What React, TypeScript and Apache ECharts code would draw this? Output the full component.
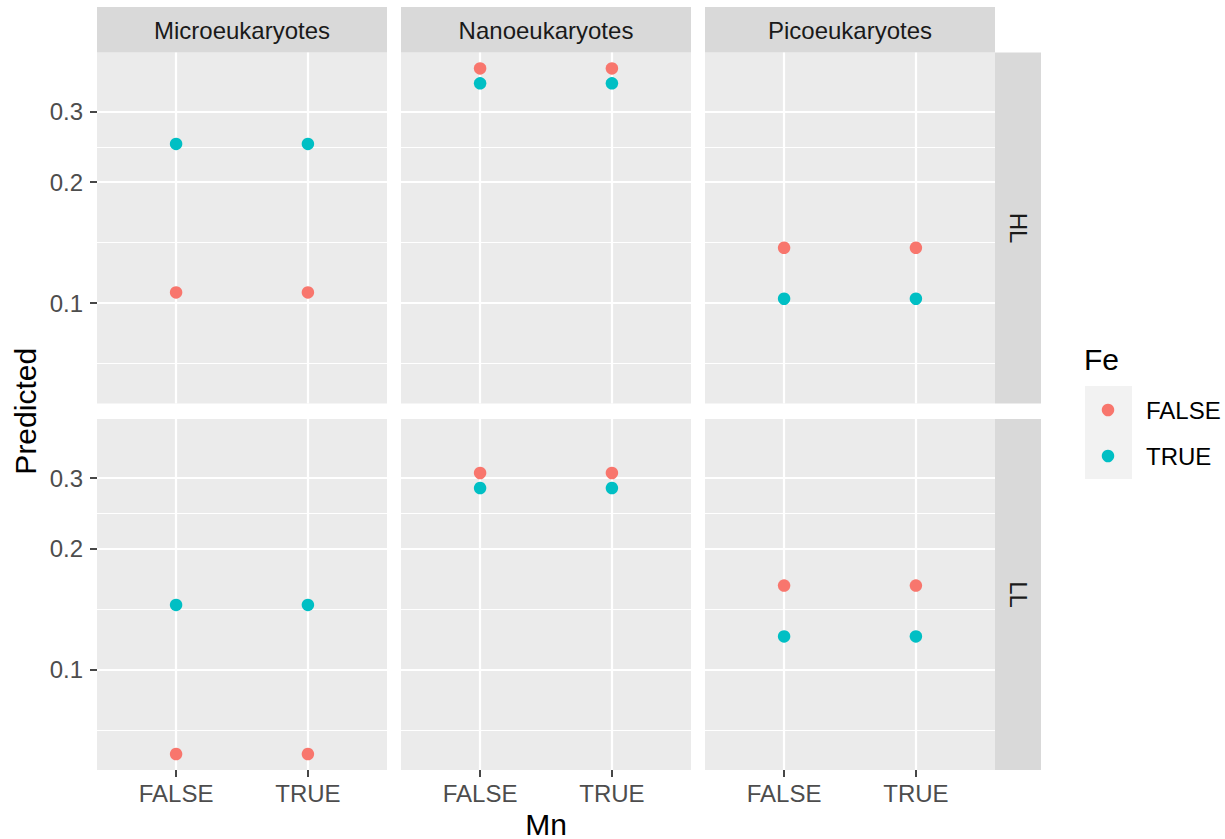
import React, { useEffect, useRef } from 'react';
import * as echarts from 'echarts';

// Facets
const species = ['Microeukaryotes', 'Nanoeukaryotes', 'Picoeukaryotes'];
const lightLevels = ['HL', 'LL'];
// x axis (Mn) levels and colour groups (Fe)
const mnLevels = ['FALSE', 'TRUE'];
const feLevels = ['FALSE', 'TRUE'];

// Predicted values per species, given for Mn = FALSE and Mn = TRUE
const hlFeFalse = [[0.1063, 0.1063], [0.3842, 0.3842], [0.1373, 0.1373]];
const hlFeTrue = [[0.2491, 0.2491], [0.3526, 0.3526], [0.1025, 0.1025]];
const llFeFalse = [[0.0616, 0.0616], [0.3088, 0.3088], [0.1619, 0.1619]];
const llFeTrue = [[0.1449, 0.1449], [0.2833, 0.2833], [0.1209, 0.1209]];

// log10 y scale
const yBreaks = [0.1, 0.2, 0.3];
const yMinorBreaks = [0.0707, 0.1414, 0.2449];
const yLimits = [0.0562, 0.4209];

const feColors = ['#F8766D', '#00BFC4'];

const FONT = 'Liberation Sans, Arial, Helvetica, sans-serif';
const TEXT_SIZE = 24;
const TITLE_SIZE = 30;
const PANEL_LEFT = [97, 401, 705];
const PANEL_TOP = [52.5, 419];
const PANEL_W = 290;
const PANEL_H = 351;

function buildOption() {
  const grids: any[] = [];
  const xAxes: any[] = [];
  const yAxes: any[] = [];
  const series: any[] = [];
  const graphics: any[] = [];

  const valuesByLight = [
    [hlFeFalse, hlFeTrue],
    [llFeFalse, llFeTrue],
  ];

  lightLevels.forEach((light, r) => {
    species.forEach((sp, c) => {
      const idx = r * species.length + c;
      grids.push({
        left: PANEL_LEFT[c],
        top: PANEL_TOP[r],
        width: PANEL_W,
        height: PANEL_H,
        show: true,
        backgroundColor: '#EBEBEB',
        borderWidth: 0,
        outerBoundsMode: 'none',
      });
      const bottomRow = r === lightLevels.length - 1;
      xAxes.push({
        type: 'value',
        gridIndex: idx,
        min: 0.4,
        max: 2.6,
        axisLine: { show: false },
        axisTick: {
          show: bottomRow,
          customValues: [1, 2],
          length: 7,
          lineStyle: { color: '#333333', width: 1.8 },
        },
        axisLabel: {
          show: bottomRow,
          customValues: [1, 2],
          margin: 11,
          fontFamily: FONT,
          fontSize: TEXT_SIZE,
          color: '#4D4D4D',
          formatter: (v: number) => mnLevels[Math.round(v) - 1] ?? '',
        },
        splitLine: { show: true, lineStyle: { color: '#FFFFFF', width: 2.2 } },
      });
      // minor gridlines
      yAxes.push({
        type: 'log',
        logBase: 10,
        gridIndex: idx,
        position: 'left',
        min: yLimits[0],
        max: yLimits[1],
        axisLine: { show: false },
        axisTick: { show: false, customValues: yMinorBreaks },
        axisLabel: { show: false },
        splitLine: { show: true, lineStyle: { color: '#FFFFFF', width: 1.1 } },
      });
      // major breaks with labels
      const leftCol = c === 0;
      yAxes.push({
        type: 'log',
        logBase: 10,
        gridIndex: idx,
        position: 'left',
        min: yLimits[0],
        max: yLimits[1],
        axisLine: { show: false },
        axisTick: {
          show: leftCol,
          customValues: yBreaks,
          length: 7,
          lineStyle: { color: '#333333', width: 1.8 },
        },
        axisLabel: {
          show: leftCol,
          customValues: yBreaks,
          margin: 14,
          fontFamily: FONT,
          fontSize: TEXT_SIZE,
          color: '#4D4D4D',
          formatter: (v: number) => Number(v).toFixed(1),
        },
        splitLine: { show: true, lineStyle: { color: '#FFFFFF', width: 2.2 } },
      });

      feLevels.forEach((fe, f) => {
        const vals = valuesByLight[r][f][c];
        series.push({
          type: 'scatter',
          name: fe,
          xAxisIndex: idx,
          yAxisIndex: idx * 2 + 1,
          symbol: 'circle',
          symbolSize: 12.5,
          itemStyle: { color: feColors[f], opacity: 1 },
          emphasis: { disabled: true },
          data: vals.map((v, i) => [i + 1, v]),
        });
      });
    });

    // right-hand strip for the light level
    const stripX = PANEL_LEFT[2] + PANEL_W;
    graphics.push({
      type: 'rect',
      shape: { x: stripX, y: PANEL_TOP[r], width: 46, height: PANEL_H },
      style: { fill: '#D9D9D9' },
    });
    graphics.push({
      type: 'text',
      x: stripX + 23,
      y: PANEL_TOP[r] + PANEL_H / 2,
      rotation: -Math.PI / 2,
      style: {
        text: light,
        fontFamily: FONT,
        fontSize: TEXT_SIZE,
        fill: '#1A1A1A',
        align: 'center',
        verticalAlign: 'middle',
      },
    });
  });

  // top strips for species
  species.forEach((sp, c) => {
    graphics.push({
      type: 'rect',
      shape: { x: PANEL_LEFT[c], y: 7, width: PANEL_W, height: PANEL_TOP[0] - 7 },
      style: { fill: '#D9D9D9' },
    });
    graphics.push({
      type: 'text',
      x: PANEL_LEFT[c] + PANEL_W / 2,
      y: 30,
      style: {
        text: sp,
        fontFamily: FONT,
        fontSize: TEXT_SIZE,
        fill: '#1A1A1A',
        align: 'center',
        verticalAlign: 'middle',
      },
    });
  });

  // axis titles
  graphics.push({
    type: 'text',
    x: 25,
    y: (PANEL_TOP[0] + PANEL_TOP[1] + PANEL_H) / 2,
    rotation: Math.PI / 2,
    style: {
      text: 'Predicted',
      fontFamily: FONT,
      fontSize: TITLE_SIZE,
      fill: '#000000',
      align: 'center',
      verticalAlign: 'middle',
    },
  });
  graphics.push({
    type: 'text',
    x: (PANEL_LEFT[0] + PANEL_LEFT[2] + PANEL_W) / 2,
    y: 824,
    style: {
      text: 'Mn',
      fontFamily: FONT,
      fontSize: TITLE_SIZE,
      fill: '#000000',
      align: 'center',
      verticalAlign: 'middle',
    },
  });

  // legend for Fe
  graphics.push({
    type: 'text',
    x: 1084,
    y: 359,
    style: {
      text: 'Fe',
      fontFamily: FONT,
      fontSize: TITLE_SIZE,
      fill: '#000000',
      align: 'left',
      verticalAlign: 'middle',
    },
  });
  graphics.push({
    type: 'rect',
    shape: { x: 1085, y: 386, width: 47, height: 93 },
    style: { fill: '#F2F2F2' },
  });
  feLevels.forEach((fe, f) => {
    const cy = 410 + f * 46;
    graphics.push({
      type: 'circle',
      shape: { cx: 1108, cy, r: 6.25 },
      style: { fill: feColors[f] },
    });
    graphics.push({
      type: 'text',
      x: 1146,
      y: cy,
      style: {
        text: fe,
        fontFamily: FONT,
        fontSize: TEXT_SIZE,
        fill: '#000000',
        align: 'left',
        verticalAlign: 'middle',
      },
    });
  });

  return {
    animation: false,
    backgroundColor: '#FFFFFF',
    grid: grids,
    xAxis: xAxes,
    yAxis: yAxes,
    series,
    graphic: graphics,
  };
}

export default function App() {
  const ref = useRef<HTMLDivElement>(null);
  useEffect(() => {
    if (!ref.current) return;
    const chart = echarts.init(ref.current, undefined, { renderer: 'svg' });
    chart.setOption(buildOption() as any);
    return () => chart.dispose();
  }, []);
  return (
    <div
      ref={ref}
      style={{ position: 'fixed', left: 0, top: 0, width: 1225, height: 839 }}
    />
  );
}
